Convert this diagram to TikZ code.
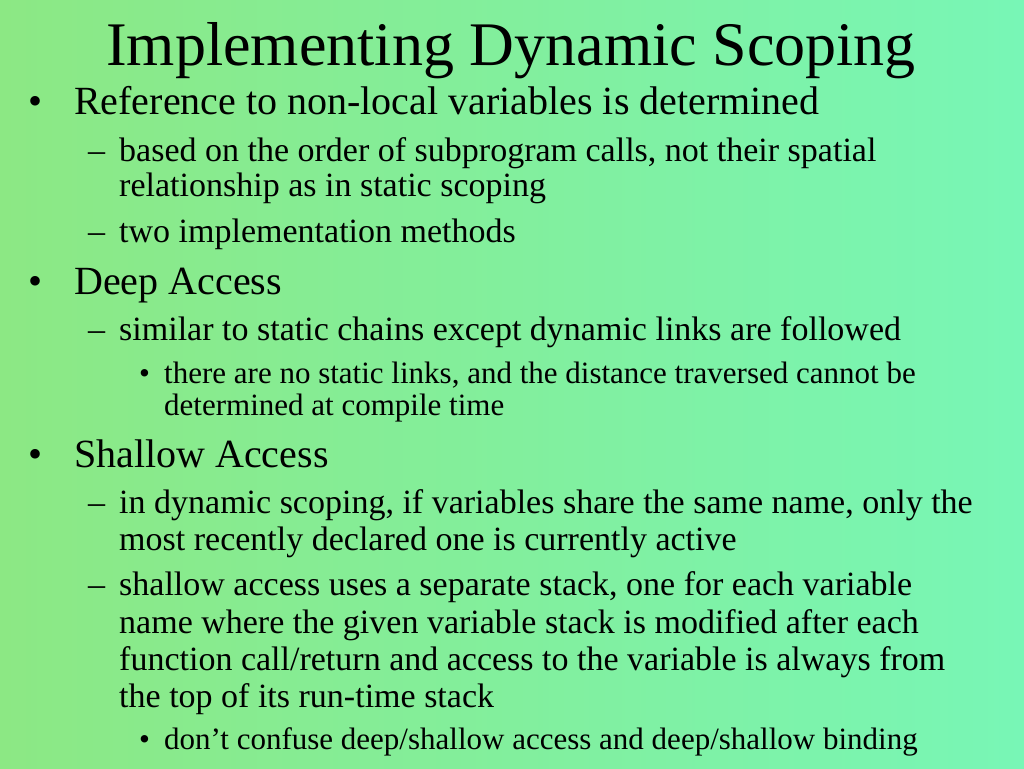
\documentclass[tikz,border=0pt]{standalone}
\usepackage{fontspec}
\setmainfont{Liberation Serif}
\definecolor{bgleft}{RGB}{140,232,132}
\definecolor{bgright}{RGB}{120,246,182}
\begin{document}
\begin{tikzpicture}[x=1pt,y=1pt]
	\tikzstyle{txt}=[anchor=base west, inner sep=0pt]
	\tikzstyle{one}=[txt, font=\fontsize{40}{44}\selectfont]
	\tikzstyle{two}=[txt, font=\fontsize{34}{38}\selectfont]
	\tikzstyle{three}=[txt, font=\fontsize{31}{34}\selectfont]
	% Background
	\shade[left color=bgleft, right color=bgright] (0,0) rectangle (1024,768);
	\useasboundingbox (0,0) rectangle (1024,768);
	% Title
	\node[anchor=base, inner sep=0pt, font=\fontsize{62}{66}\selectfont] (title) at (511,702) {Implementing Dynamic Scoping};
	% Level 1
	\foreach \y/\t [count=\i] in {653/Reference to non-local variables is determined, 473/Deep Access, 300/Shallow Access} {
		\node[one] (dot_\i) at (28,\y) {\textbullet};
		\node[one] (item_\i) at (74,\y) {\t};
	}
	% Level 2
	\foreach \y in {606,571,525,427,254,217,172,135,98,61}
		\coordinate (row_\y) at (119,\y);
	\foreach \y in {606,525,427,254,172}
		\node[two] (dash_\y) at (88,\y) {\textendash};
	\node[two] (sub_1a) at (row_606) {based on the order of subprogram calls, not their spatial};
	\node[two] (sub_1b) at (row_571) {relationship as in static scoping};
	\node[two] (sub_2) at (row_525) {two implementation methods};
	\node[two] (sub_3) at (row_427) {similar to static chains except dynamic links are followed};
	\node[two] (sub_4a) at (row_254) {in dynamic scoping, if variables share the same name, only the};
	\node[two] (sub_4b) at (row_217) {most recently declared one is currently active};
	\node[two] (sub_5a) at (row_172) {shallow access uses a separate stack, one for each variable};
	\node[two] (sub_5b) at (row_135) {name where the given variable stack is modified after each};
	\node[two] (sub_5c) at (row_98) {function call/return and access to the variable is always from};
	\node[two] (sub_5d) at (row_61) {the top of its run-time stack};
	% Level 3
	\foreach \y in {384,19}
		\node[three] (pt_\y) at (139,\y) {\textbullet};
	\node[three] (subsub_1a) at (164,384) {there are no static links, and the distance traversed cannot be};
	\node[three] (subsub_1b) at (164,352) {determined at compile time};
	\node[three] (subsub_2) at (164,19) {don’t confuse deep/shallow access and deep/shallow binding};
\end{tikzpicture}
\end{document}
